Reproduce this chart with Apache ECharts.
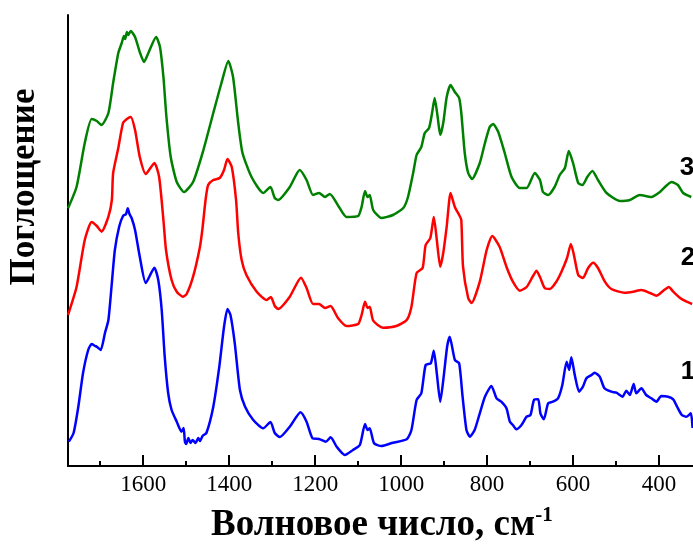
<!DOCTYPE html>
<html>
<head>
<meta charset="utf-8">
<script src="https://cdn.jsdelivr.net/npm/echarts@6/dist/echarts.min.js"></script>
<style>
  html, body { margin: 0; padding: 0; background: #fff; }
  #chart { width: 693px; height: 544px; }
</style>
</head>
<body>
<div id="chart"></div>
<script>
// IR absorption spectra, wavenumber (cm^-1) vs. absorbance (curves offset vertically)

// Spectrum 1 (blue)
const wn1 = [1773,1762,1751,1740,1728,1720,1712,1708,1699,1689,1681,1673,1666,1656,1647,1640,1636,1632,1627,1619,1608,1594,1574,1565,1557,1550,1542,1534,1522,1511,1506,1503,1500,1495,1490,1485,1478,1472,1468,1462,1453,1437,1423,1412,1404,1397,1387,1375,1363,1344,1321,1304,1294,1282,1259,1234,1220,1206,1191,1175,1164,1150,1131,1112,1096,1084,1078,1073,1063,1046,1019,987,976,964,953,943,931,924,917,909,901,893,887,875,865,857,848,840,829,817,805,790,778,767,755,747,740,732,720,708,699,691,681,676,668,658,647,635,625,615,609,604,596,586,577,569,557,550,538,527,511,499,485,476,468,459,453,441,430,418,406,395,379,367,358,347,336,326,322];
const abs1 = [0.243,0.33,0.593,0.93,1.16,1.22,1.20,1.193,1.16,1.33,1.46,1.83,2.16,2.393,2.50,2.52,2.577,2.52,2.48,2.36,2.093,1.83,1.983,1.86,1.56,1.093,0.73,0.56,0.443,0.343,0.38,0.243,0.22,0.28,0.23,0.26,0.23,0.28,0.25,0.30,0.33,0.593,0.993,1.393,1.57,1.51,1.227,0.76,0.593,0.46,0.377,0.44,0.33,0.29,0.393,0.537,0.443,0.277,0.27,0.243,0.287,0.193,0.11,0.16,0.21,0.42,0.36,0.377,0.227,0.20,0.233,0.267,0.36,0.66,0.727,1.01,1.027,1.153,0.927,0.643,0.893,1.193,1.293,1.06,1.027,0.693,0.36,0.293,0.36,0.527,0.693,0.80,0.677,0.643,0.577,0.443,0.41,0.367,0.41,0.493,0.51,0.66,0.667,0.527,0.467,0.627,0.643,0.677,0.81,1.043,0.96,1.087,0.91,0.743,0.793,0.877,0.91,0.933,0.893,0.777,0.743,0.733,0.693,0.753,0.71,0.82,0.727,0.777,0.71,0.677,0.643,0.70,0.693,0.667,0.593,0.51,0.493,0.527,0.38];

// Spectrum 2 (red)
const wn2 = [1775,1755,1736,1720,1708,1697,1681,1673,1670,1658,1647,1638,1629,1619,1608,1594,1574,1563,1553,1547,1534,1522,1508,1499,1484,1468,1462,1455,1449,1437,1422,1412,1404,1394,1384,1379,1371,1360,1336,1313,1303,1294,1286,1259,1233,1220,1205,1191,1177,1164,1147,1127,1100,1092,1084,1078,1073,1065,1042,1011,987,976,964,950,943,932,924,917,909,902,894,885,875,865,860,856,844,836,817,801,788,771,755,740,724,708,694,685,676,666,654,639,627,614,605,598,588,577,565,553,542,526,511,480,460,441,421,406,390,377,367,351,336,323];
const abs2 = [1.51,1.793,2.26,2.44,2.40,2.343,2.493,2.66,2.93,3.18,3.43,3.47,3.49,3.36,3.09,2.92,3.03,2.89,2.46,2.16,1.86,1.743,1.693,1.72,1.893,2.193,2.38,2.66,2.81,2.86,2.88,2.96,3.07,2.99,2.66,2.33,2.06,1.91,1.743,1.66,1.69,1.60,1.57,1.693,1.883,1.78,1.62,1.62,1.58,1.60,1.48,1.40,1.42,1.51,1.643,1.58,1.593,1.453,1.383,1.40,1.46,1.593,1.93,1.98,2.21,2.28,2.49,2.26,1.993,2.13,2.393,2.73,2.59,2.51,2.46,1.993,1.68,1.63,1.843,2.16,2.30,2.193,1.993,1.843,1.753,1.79,1.893,1.953,1.88,1.78,1.77,1.843,1.943,2.08,2.22,2.11,1.91,1.88,1.98,2.033,1.98,1.843,1.77,1.733,1.743,1.76,1.73,1.703,1.753,1.79,1.743,1.68,1.643,1.62];

// Spectrum 3 (green)
const wn3 = [1775,1755,1736,1720,1708,1697,1681,1670,1658,1650,1645,1642,1638,1635,1629,1619,1608,1598,1588,1570,1561,1553,1546,1536,1522,1505,1484,1460,1437,1418,1402,1391,1379,1369,1348,1321,1304,1294,1286,1259,1236,1220,1205,1191,1177,1166,1143,1127,1100,1092,1084,1078,1073,1065,1046,1019,995,984,972,964,953,945,935,928,922,915,909,902,894,885,875,865,860,852,844,835,817,805,794,786,774,759,743,724,708,689,677,670,658,643,631,619,610,600,588,578,567,555,542,522,491,468,445,418,398,371,356,344,325];
const abs3 = [2.577,2.793,3.23,3.47,3.45,3.41,3.53,3.83,4.13,4.23,4.30,4.27,4.34,4.31,4.35,4.29,4.14,4.04,4.13,4.29,4.19,3.89,3.49,3.09,2.84,2.74,2.84,3.16,3.53,3.83,4.05,3.89,3.43,3.13,2.89,2.73,2.79,2.68,2.66,2.79,2.96,2.86,2.71,2.73,2.69,2.72,2.58,2.49,2.50,2.59,2.75,2.69,2.71,2.56,2.48,2.51,2.58,2.69,2.93,3.11,3.19,3.33,3.38,3.53,3.68,3.49,3.31,3.43,3.69,3.81,3.74,3.68,3.53,3.13,2.93,2.87,3.03,3.23,3.39,3.42,3.34,3.13,2.89,2.78,2.78,2.93,2.86,2.74,2.71,2.79,2.91,2.98,3.15,3.03,2.83,2.81,2.89,2.95,2.86,2.73,2.65,2.66,2.71,2.69,2.74,2.84,2.81,2.73,2.69];

// Axis tick values
const majorTicks = [1600, 1400, 1200, 1000, 800, 600, 400];
const curveNames = ['1', '2', '3'];

const serif = '"Liberation Serif", "Times New Roman", serif';
const sans = '"Liberation Sans", Arial, sans-serif';

function pairs(xs, ys) { return xs.map((x, i) => [x, ys[i]]); }

const chart = echarts.init(document.getElementById('chart'), null, { renderer: 'canvas' });

const lineSeries = (name, xs, ys, color) => ({
  name, type: 'line', xAxisIndex: 0, yAxisIndex: 0,
  data: pairs(xs, ys), showSymbol: false, smooth: 0.2,
  lineStyle: { color, width: 2.5 }, clip: true, animation: false
});

const curveLabel = (text, x, y) => ({
  type: 'text', x, y, silent: true,
  style: { text, fontFamily: sans, fontWeight: 'bold', fontSize: 26, fill: '#000', align: 'center', verticalAlign: 'middle' }
});

chart.setOption({
  animation: false,
  backgroundColor: '#ffffff',
  // the wavenumber axis continues past the right edge of the canvas (down to 200 cm^-1)
  grid: { left: 68, top: 15, width: 677, bottom: 78, containLabel: false, outerBoundsMode: 'none' },
  xAxis: [
    {
      type: 'value', inverse: true, min: 200, max: 1775, interval: 200,
      axisLine: { show: true, lineStyle: { color: '#000', width: 2 } },
      axisTick: { show: true, inside: true, length: 11, lineStyle: { color: '#000', width: 2 } },
      axisLabel: {
        show: true, margin: 7, color: '#000', fontFamily: serif, fontSize: 23,
        showMaxLabel: false, showMinLabel: false,
        formatter: v => (majorTicks.indexOf(v) >= 0 ? String(v) : '')
      },
      splitLine: { show: false }
    },
    {
      type: 'value', inverse: true, min: 200, max: 1775, interval: 100, position: 'bottom',
      axisLine: { show: false },
      axisTick: { show: true, inside: true, length: 5, lineStyle: { color: '#000', width: 2 } },
      axisLabel: { show: false },
      splitLine: { show: false }
    }
  ],
  yAxis: {
    type: 'value', min: 0, max: 4.51,
    axisLine: { show: true, lineStyle: { color: '#000', width: 2 } },
    axisTick: { show: false }, axisLabel: { show: false }, splitLine: { show: false }
  },
  series: [
    lineSeries(curveNames[0], wn1, abs1, '#0000ff'),
    lineSeries(curveNames[1], wn2, abs2, '#ff0000'),
    lineSeries(curveNames[2], wn3, abs3, '#008000')
  ],
  graphic: [
    {
      type: 'text', left: 211, top: 505, silent: true,
      style: {
        text: '{a|Волновое число, см}{b|-1}',
        rich: {
          a: { fontFamily: serif, fontWeight: 'bold', fontSize: 37, fill: '#000', lineHeight: 40 },
          b: { fontFamily: serif, fontWeight: 'bold', fontSize: 21, fill: '#000', verticalAlign: 'top', lineHeight: 40 }
        }
      }
    },
    {
      type: 'text', x: 25, y: 187, rotation: Math.PI / 2, silent: true,
      style: {
        text: 'Поглощение', fontFamily: serif, fontWeight: 'bold', fontSize: 35,
        fill: '#000', align: 'center', verticalAlign: 'middle'
      }
    },
    curveLabel(curveNames[2], 687, 168),
    curveLabel(curveNames[1], 688, 258),
    curveLabel(curveNames[0], 688, 372)
  ]
});
</script>
</body>
</html>
